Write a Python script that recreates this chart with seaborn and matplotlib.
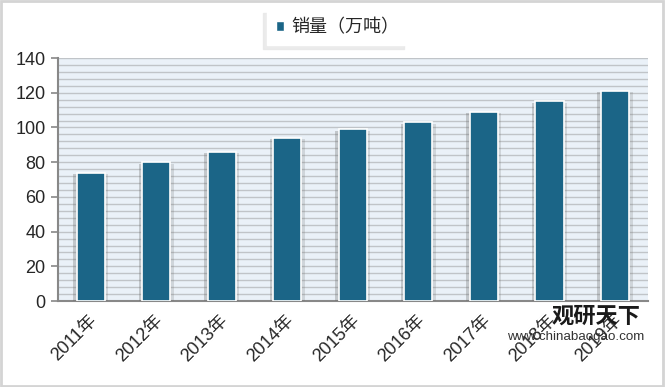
import matplotlib
matplotlib.use("Agg")
import matplotlib.pyplot as plt
import matplotlib.transforms as mtransforms
import seaborn as sns
import pandas as pd
import numpy as np
from matplotlib.patches import Rectangle
import matplotlib.patheffects as pe

years = ["2011年", "2012年", "2013年", "2014年", "2015年", "2016年", "2017年", "2018年", "2019年"]
sales = [74, 80, 86, 94, 99, 103, 109, 115, 121]
series_name = "销量（万吨）"

sns.set_style("white")
plt.rcParams['font.family'] = ['Noto Sans CJK SC', 'DejaVu Sans']
latin_cjk = ['Liberation Sans', 'Noto Sans CJK SC']

df = pd.DataFrame({"year": years, "value": sales, "series": series_name})

fig = plt.figure(figsize=(6.65, 3.87), dpi=100)
fig.patch.set_facecolor("white")
# outer frame
fig.add_artist(Rectangle((0.002, 0.003), 0.995, 0.994, transform=fig.transFigure,
                         fill=False, edgecolor="#d4d4d4", linewidth=2))

ax = fig.add_axes([0.0872, 0.222, 0.8868, 0.628])
ax.set_facecolor("#eaf1f8")

color = "#1b6587"
sns.barplot(data=df, x="year", y="value", hue="series", palette=[color], ax=ax,
            width=0.43, saturation=1, edgecolor="white", linewidth=1.2, zorder=3, legend=False)
for p in ax.patches:
    p.set_path_effects([pe.SimplePatchShadow(offset=(-2.5, -1), shadow_rgbFace="#666666", alpha=0.3),
                        pe.SimplePatchShadow(offset=(2.5, -1), shadow_rgbFace="#666666", alpha=0.2),
                        pe.Normal()])

ax.set_ylim(0, 140)
ax.set_xlim(-0.5, len(years) - 0.5)
ax.set_yticks(np.arange(0, 141, 20))
ax.set_yticks(np.arange(0, 141, 4), minor=True)
ax.grid(axis="y", which="both", color="#c0c4c8", linewidth=1.0, zorder=0)
ax.set_axisbelow(True)
ax.tick_params(axis="y", which="major", labelsize=13, length=5, color="#888888", width=1.2,
               direction="out", left=True, pad=4)
ax.tick_params(axis="y", which="minor", length=0)
ax.tick_params(axis="x", labelsize=13, length=0, pad=12)
plt.setp(ax.get_xticklabels(), rotation=45, ha="right", va="center", rotation_mode="anchor")
shift = mtransforms.ScaledTranslation(4 / 100, 0, fig.dpi_scale_trans)
for lab in ax.get_xticklabels():
    lab.set_transform(lab.get_transform() + shift)
for lab in ax.get_yticklabels() + ax.get_xticklabels():
    lab.set_family(latin_cjk)
ax.set_xlabel("")
ax.set_ylabel("")
for s in ["top", "right"]:
    ax.spines[s].set_visible(False)
ax.spines["left"].set_color("#888888")
ax.spines["left"].set_linewidth(1.5)
ax.spines["bottom"].set_color("#888888")
ax.spines["bottom"].set_linewidth(1.5)

# legend
handle = Rectangle((0, 0), 1, 1, facecolor=color, edgecolor="white")
leg = fig.legend([handle], [series_name], loc="center", bbox_to_anchor=(0.508, 0.93),
                 frameon=True, fancybox=False,
                 shadow={'color': '#e6e6e6', 'alpha': 0.8, 'ox': -3, 'oy': -3},
                 fontsize=13, handlelength=0.45, handleheight=0.45, handletextpad=0.4, borderpad=0.5)
leg.get_frame().set_edgecolor("white")
leg.get_frame().set_facecolor("white")

# watermark
fig.text(0.896, 0.183, "观研天下", fontsize=16, fontweight="bold", color="#1a1a1a",
         ha="center", va="center", family=['Noto Sans CJK SC'], zorder=10)
fig.text(0.866, 0.129, "www.chinabaogao.com", fontsize=9.6, color="#333333",
         ha="center", va="center", family=['Liberation Sans'], zorder=10)

fig.savefig("out.png", dpi=100)
